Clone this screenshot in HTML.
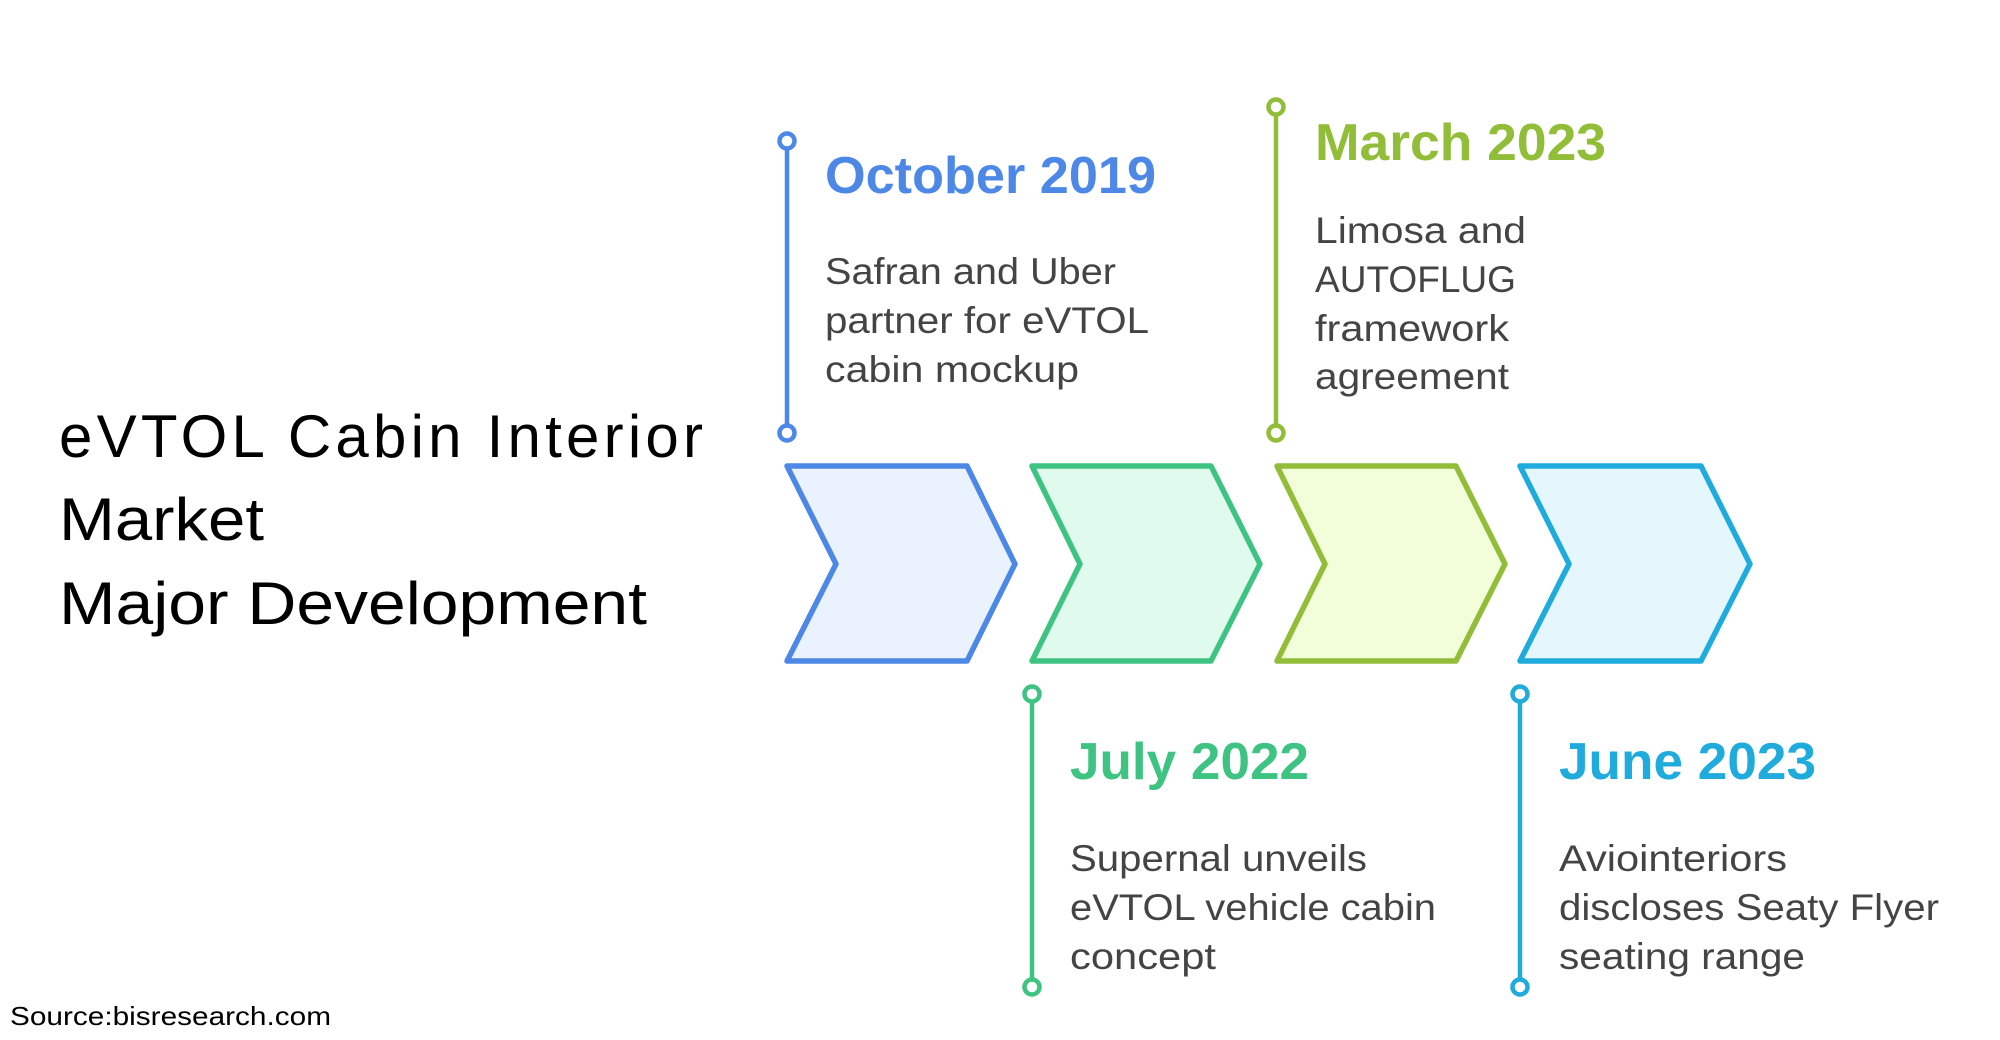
<!DOCTYPE html>
<html><head><meta charset="utf-8"><style>html,body{margin:0;padding:0;background:#fff;width:2000px;height:1040px;overflow:hidden}</style></head>
<body>
<svg width="2000" height="1040" viewBox="0 0 2000 1040" xmlns="http://www.w3.org/2000/svg">
<g transform="translate(-4,-3)">
<g stroke-width="5.5" stroke-linejoin="round">
<polygon points="791,469 971,469 1019,567 971,664 791,664 840,567" fill="#eaf2fe" stroke="#4e88e6"/>
<polygon points="1036,469 1215,469 1264,567 1215,664 1036,664 1084,567" fill="#e0fbee" stroke="#3ec383"/>
<polygon points="1281,469 1460,469 1509,567 1460,664 1281,664 1329,567" fill="#f2fdda" stroke="#92bd38"/>
<polygon points="1524,469 1705,469 1754,567 1705,664 1524,664 1573,567" fill="#e5f7fd" stroke="#1fabdb"/>
</g>
<g stroke-width="4.5" fill="#fff">
<line x1="791" y1="152" x2="791" y2="428" stroke="#4e88e6"/>
<circle cx="791" cy="144" r="7.5" stroke="#4e88e6"/><circle cx="791" cy="436" r="7.5" stroke="#4e88e6"/>
<line x1="1280" y1="118" x2="1280" y2="428" stroke="#92bd38"/>
<circle cx="1280" cy="110" r="7.5" stroke="#92bd38"/><circle cx="1280" cy="436" r="7.5" stroke="#92bd38"/>
<line x1="1036" y1="705" x2="1036" y2="982" stroke="#3ec383"/>
<circle cx="1036" cy="697" r="7.5" stroke="#3ec383"/><circle cx="1036" cy="990" r="7.5" stroke="#3ec383"/>
<line x1="1524" y1="705" x2="1524" y2="982" stroke="#1fabdb"/>
<circle cx="1524" cy="697" r="7.5" stroke="#1fabdb"/><circle cx="1524" cy="990" r="7.5" stroke="#1fabdb"/>
</g>
<g font-family="Liberation Sans, sans-serif" font-weight="bold" font-size="52">
<text x="829" y="196" fill="#4e88e6" textLength="331" lengthAdjust="spacingAndGlyphs">October 2019</text>
<text x="1319" y="163" fill="#92bd38" textLength="291" lengthAdjust="spacingAndGlyphs">March 2023</text>
<text x="1074" y="782" fill="#3ec383" textLength="239" lengthAdjust="spacingAndGlyphs">July 2022</text>
<text x="1563" y="782" fill="#1fabdb" textLength="257" lengthAdjust="spacingAndGlyphs">June 2023</text>
</g>
<g font-family="Liberation Sans, sans-serif" font-size="37" fill="#444">
<text x="829" y="287" textLength="291" lengthAdjust="spacingAndGlyphs">Safran and Uber</text>
<text x="829" y="336" textLength="324" lengthAdjust="spacingAndGlyphs">partner for eVTOL</text>
<text x="829" y="385" textLength="254" lengthAdjust="spacingAndGlyphs">cabin mockup</text>
<text x="1319" y="246" textLength="211" lengthAdjust="spacingAndGlyphs">Limosa and</text>
<text x="1319" y="295" textLength="201" lengthAdjust="spacingAndGlyphs">AUTOFLUG</text>
<text x="1319" y="344" textLength="194" lengthAdjust="spacingAndGlyphs">framework</text>
<text x="1319" y="392" textLength="194" lengthAdjust="spacingAndGlyphs">agreement</text>
<text x="1074" y="874" textLength="297" lengthAdjust="spacingAndGlyphs">Supernal unveils</text>
<text x="1074" y="923" textLength="366" lengthAdjust="spacingAndGlyphs">eVTOL vehicle cabin</text>
<text x="1074" y="972" textLength="146" lengthAdjust="spacingAndGlyphs">concept</text>
<text x="1563" y="874" textLength="228" lengthAdjust="spacingAndGlyphs">Aviointeriors</text>
<text x="1563" y="923" textLength="380" lengthAdjust="spacingAndGlyphs">discloses Seaty Flyer</text>
<text x="1563" y="972" textLength="246" lengthAdjust="spacingAndGlyphs">seating range</text>
</g>
</g>
<g font-family="Liberation Sans, sans-serif" font-size="60" fill="#000">
<text x="59" y="457" textLength="644" lengthAdjust="spacing">eVTOL Cabin Interior</text>
<text x="59" y="540" textLength="205" lengthAdjust="spacingAndGlyphs">Market</text>
<text x="59" y="624" textLength="588" lengthAdjust="spacingAndGlyphs">Major Development</text>
</g>
<text x="10" y="1025" font-family="Liberation Sans, sans-serif" font-size="26" fill="#000" textLength="321" lengthAdjust="spacingAndGlyphs">Source:bisresearch.com</text>
</svg>
</body></html>
